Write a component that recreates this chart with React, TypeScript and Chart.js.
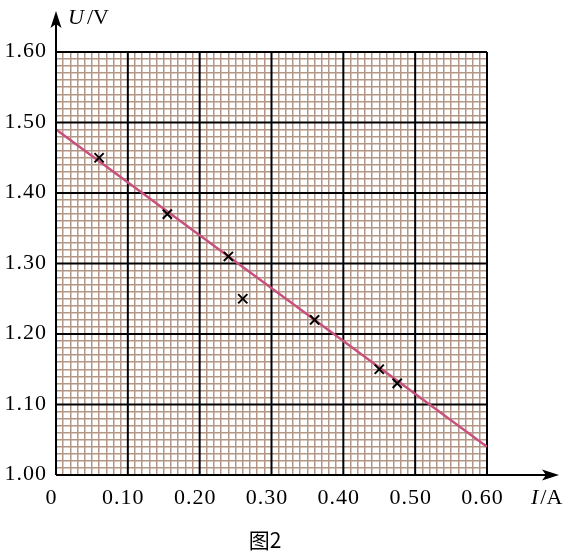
import React, { useEffect, useRef } from "react";
import { Chart, registerables } from "chart.js";

Chart.register(...registerables);

// data
const measuredI = [0.06, 0.155, 0.24, 0.26, 0.36, 0.45, 0.475];
const measuredU = [1.45, 1.37, 1.31, 1.25, 1.22, 1.15, 1.13];
const fitI = [0, 0.6];
const fitU = [1.49, 1.04];
const xTickValues = [0, 0.1, 0.2, 0.3, 0.4, 0.5, 0.6];
const xTickLabels = ["0", "0.10", "0.20", "0.30", "0.40", "0.50", "0.60"];
const yTickValues = [1.0, 1.1, 1.2, 1.3, 1.4, 1.5, 1.6];
const yTickLabels = ["1.00", "1.10", "1.20", "1.30", "1.40", "1.50", "1.60"];
const caption = "图2";

const MINOR = "rgb(180,150,134)";
const SERIF = '"Liberation Serif", "Times New Roman", serif';

const isMajor = (v: number) => Math.round(v * 100) % 10 === 0;

const paperPlugin = {
  id: "paper",
  beforeDatasetsDraw(chart: any) {
    const { ctx, chartArea: a, scales } = chart;
    const xs = scales.x;
    const ys = scales.y;
    ctx.save();
    ctx.strokeStyle = "#000";
    ctx.lineWidth = 2;
    xTickValues.forEach((v) => {
      const px = xs.getPixelForValue(v);
      ctx.beginPath();
      ctx.moveTo(px, a.top);
      ctx.lineTo(px, a.bottom);
      ctx.stroke();
    });
    yTickValues.forEach((v) => {
      const py = ys.getPixelForValue(v);
      ctx.beginPath();
      ctx.moveTo(a.left, py);
      ctx.lineTo(a.right, py);
      ctx.stroke();
    });
    ctx.restore();
  },
  afterDraw(chart: any) {
    const { ctx, chartArea: a, scales } = chart;
    const xs = scales.x;
    const ys = scales.y;
    const x0 = xs.getPixelForValue(0);
    const y0 = ys.getPixelForValue(1.0);
    ctx.save();
    // axes with arrows
    ctx.strokeStyle = "#000";
    ctx.fillStyle = "#000";
    ctx.lineWidth = 2;
    ctx.beginPath();
    ctx.moveTo(x0, y0);
    ctx.lineTo(x0, 20);
    ctx.moveTo(x0, y0);
    ctx.lineTo(548, y0);
    ctx.stroke();
    ctx.beginPath();
    ctx.moveTo(x0, 11);
    ctx.lineTo(x0 - 5.5, 28);
    ctx.lineTo(x0, 24);
    ctx.lineTo(x0 + 5.5, 28);
    ctx.closePath();
    ctx.fill();
    ctx.beginPath();
    ctx.moveTo(559, y0);
    ctx.lineTo(542, y0 - 5.5);
    ctx.lineTo(546, y0);
    ctx.lineTo(542, y0 + 5.5);
    ctx.closePath();
    ctx.fill();

    // tick labels
    ctx.font = `22px ${SERIF}`;
    (ctx as any).letterSpacing = "1px";
    ctx.textAlign = "right";
    ctx.textBaseline = "alphabetic";
    yTickValues.forEach((v, i) => {
      ctx.fillText(yTickLabels[i], a.left - 9, ys.getPixelForValue(v) + 5);
    });
    ctx.textAlign = "center";
    xTickValues.forEach((v, i) => {
      ctx.fillText(xTickLabels[i], xs.getPixelForValue(v) - 4.5, 504);
    });
    (ctx as any).letterSpacing = "0px";

    // axis titles
    ctx.textAlign = "left";
    ctx.font = `italic 22px ${SERIF}`;
    ctx.fillText("U", 68, 24);
    let w = ctx.measureText("U").width;
    ctx.font = `22px ${SERIF}`;
    ctx.fillText("/V", 68 + w + 3, 24);

    ctx.font = `italic 22px ${SERIF}`;
    ctx.fillText("I", 531, 504);
    w = ctx.measureText("I").width;
    ctx.font = `22px ${SERIF}`;
    ctx.fillText("/A", 531 + w + 2, 504);

    // caption
    ctx.textAlign = "center";
    ctx.font = `21px "Noto Sans CJK SC", ${SERIF}`;
    ctx.fillText(caption, 265, 548);
    ctx.restore();
  },
};

export default function App() {
  const ref = useRef<HTMLCanvasElement | null>(null);
  useEffect(() => {
    if (!ref.current) return;
    const chart = new Chart(ref.current, {
      type: "scatter",
      data: {
        datasets: [
          {
            type: "line",
            label: "fit",
            data: fitI.map((x, i) => ({ x, y: fitU[i] })),
            borderColor: "#c8507c",
            borderWidth: 2.5,
            pointRadius: 0,
            fill: false,
            order: 2,
          } as any,
          {
            label: "measured",
            data: measuredI.map((x, i) => ({ x, y: measuredU[i] })),
            pointStyle: "crossRot",
            pointRadius: 6.5,
            borderColor: "#000",
            backgroundColor: "#000",
            borderWidth: 2,
            order: 1,
          },
        ],
      },
      options: {
        responsive: false,
        animation: false,
        layout: { padding: { left: 0, top: 52, right: 84, bottom: 0 } },
        plugins: { legend: { display: false }, tooltip: { enabled: false } },
        scales: {
          x: {
            type: "linear",
            min: 0,
            max: 0.6,
            border: { display: false },
            ticks: { display: false, stepSize: 0.01, autoSkip: false, maxTicksLimit: 1000 },
            grid: {
              drawTicks: false,
              color: (c: any) => (isMajor(c.tick.value) ? "rgba(0,0,0,0)" : MINOR),
              lineWidth: 1.5,
            },
            afterFit: (s: any) => {
              s.height = 84;
            },
          },
          y: {
            type: "linear",
            min: 1.0,
            max: 1.6,
            border: { display: false },
            ticks: { display: false, stepSize: 0.01, autoSkip: false, maxTicksLimit: 1000 },
            grid: {
              drawTicks: false,
              color: (c: any) => (isMajor(c.tick.value) ? "rgba(0,0,0,0)" : MINOR),
              lineWidth: 1.5,
            },
            afterFit: (s: any) => {
              s.width = 56;
            },
          },
        },
      },
      plugins: [paperPlugin],
    });
    return () => chart.destroy();
  }, []);
  return (
    <div style={{ position: "absolute", left: 0, top: 0, width: 571, height: 559, background: "#fff" }}>
      <canvas ref={ref} width={571} height={559} style={{ width: 571, height: 559 }} />
    </div>
  );
}
